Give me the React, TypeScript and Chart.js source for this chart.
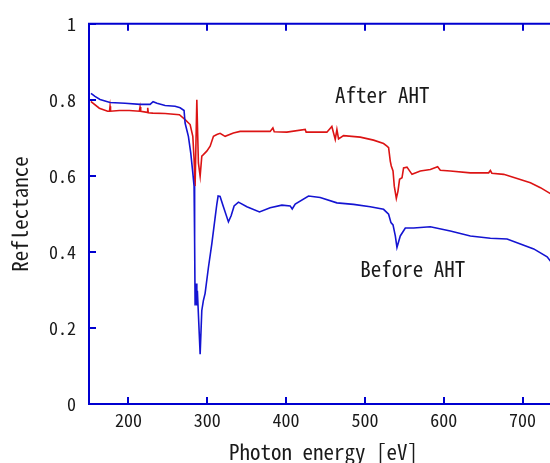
import React, { useEffect, useRef } from 'react';
import { Chart, registerables } from 'chart.js';

Chart.register(...registerables);

// Before AHT (blue)
const beforeEnergy = [
  152.5, 157.6, 164.0, 176.7, 195.7, 214.8, 227.5, 231.3, 236.3, 246.5, 259.2, 265.6, 270.6, 271.9,
  276.1, 279.1, 281.7, 283.3, 284.0, 284.6, 285.9, 286.8, 287.5, 291.0, 293.1, 295.1, 297.3, 301.5,
  305.8, 310.0, 312.2, 313.8, 316.3, 320.2, 326.9, 330.3, 334.1, 339.6, 350.3, 366.3, 379.8, 394.7,
  405.2, 407.8, 411.6, 428.5, 443.3, 464.5, 485.6, 506.8, 523.7, 530.1, 533.1, 535.7, 538.6, 540.7,
  544.9, 551.3, 561.8, 583.0, 608.4, 633.8, 659.2, 680.4, 697.3, 714.2, 731.2, 738.0,
];
const beforeReflectance = [
  0.817, 0.809, 0.801, 0.793, 0.791, 0.788, 0.788, 0.795, 0.791, 0.785, 0.783, 0.779, 0.772, 0.739,
  0.704, 0.660, 0.608, 0.573, 0.429, 0.259, 0.317, 0.259, 0.298, 0.131, 0.246, 0.272, 0.291, 0.359,
  0.421, 0.490, 0.526, 0.547, 0.546, 0.521, 0.479, 0.495, 0.521, 0.531, 0.519, 0.505, 0.516, 0.523,
  0.521, 0.513, 0.526, 0.547, 0.543, 0.529, 0.525, 0.519, 0.512, 0.499, 0.477, 0.471, 0.442, 0.412,
  0.442, 0.463, 0.463, 0.466, 0.455, 0.442, 0.436, 0.434, 0.421, 0.408, 0.387, 0.369,
];

// After AHT (red)
const afterEnergy = [
  152.5, 153.8, 163.1, 173.7, 176.0, 176.7, 177.3, 188.5, 201.2, 213.9, 214.8, 215.6, 224.0, 224.5,
  225.2, 230.9, 246.5, 264.7, 271.9, 278.3, 281.7, 283.3, 284.6, 286.8, 288.8, 291.0, 293.1, 295.1,
  299.4, 303.7, 307.9, 312.2, 316.3, 322.7, 333.2, 341.7, 354.4, 379.8, 383.3, 385.0, 401.0, 424.3,
  425.5, 451.8, 458.1, 462.4, 464.5, 466.6, 472.9, 494.1, 511.0, 523.7, 528.0, 530.1, 532.2, 533.5,
  535.7, 537.3, 539.9, 542.0, 544.0, 547.1, 549.1, 553.4, 559.8, 570.3, 583.0, 592.3, 595.7, 608.4,
  633.8, 657.0, 659.2, 661.1, 676.1, 693.1, 710.0, 722.7, 738.0,
];
const afterReflectance = [
  0.796, 0.793, 0.778, 0.770, 0.770, 0.783, 0.770, 0.772, 0.772, 0.770, 0.781, 0.770, 0.767, 0.779,
  0.766, 0.765, 0.764, 0.761, 0.748, 0.735, 0.704, 0.644, 0.573, 0.800, 0.634, 0.599, 0.652, 0.656,
  0.665, 0.678, 0.704, 0.709, 0.712, 0.704, 0.713, 0.717, 0.717, 0.717, 0.726, 0.716, 0.715, 0.722,
  0.715, 0.715, 0.730, 0.696, 0.722, 0.697, 0.706, 0.702, 0.694, 0.685, 0.678, 0.674, 0.639, 0.626,
  0.613, 0.573, 0.541, 0.560, 0.591, 0.595, 0.621, 0.623, 0.604, 0.613, 0.617, 0.624, 0.615, 0.613,
  0.608, 0.608, 0.614, 0.607, 0.604, 0.593, 0.582, 0.569, 0.550,
];

const xTicks = [200, 300, 400, 500, 600, 700];
const yTicks = [0, 0.2, 0.4, 0.6, 0.8, 1];
const yTickLabels = ['0', '0.2', '0.4', '0.6', '0.8', '1'];
const xMin = 150;
const xMax = 745;

const curveLabels = ['After AHT', 'Before AHT'];
const curveLabelX = [462, 494];
const curveLabelY = [0.814, 0.354];

const FONT_FAMILY = '"Noto Sans Mono CJK JP", "DejaVu Sans Mono", monospace';
const AXIS_COLOR = '#0000d0';
const TEXT_COLOR = '#1a1a1a';

const framePlugin = {
  id: 'frameAndLabels',
  afterDatasetsDraw(chart: any) {
    const { ctx, chartArea, scales } = chart;
    const { left, right, top, bottom } = chartArea;
    const xs = scales.x;
    const ys = scales.y;
    ctx.save();
    ctx.strokeStyle = AXIS_COLOR;
    ctx.lineWidth = 2;
    ctx.beginPath();
    ctx.rect(left, top, right - left, bottom - top);
    ctx.stroke();
    const tl = 7;
    ctx.beginPath();
    xTicks.forEach((v) => {
      const px = Math.round(xs.getPixelForValue(v));
      ctx.moveTo(px, bottom);
      ctx.lineTo(px, bottom - tl);
      ctx.moveTo(px, top);
      ctx.lineTo(px, top + tl);
    });
    yTicks.forEach((v) => {
      const py = Math.round(ys.getPixelForValue(v));
      ctx.moveTo(left, py);
      ctx.lineTo(left + tl, py);
      ctx.moveTo(right, py);
      ctx.lineTo(right - tl, py);
    });
    ctx.stroke();

    ctx.fillStyle = TEXT_COLOR;
    ctx.font = `21px ${FONT_FAMILY}`;
    ctx.textAlign = 'left';
    ctx.textBaseline = 'middle';
    curveLabels.forEach((t, i) => {
      ctx.fillText(t, xs.getPixelForValue(curveLabelX[i]), ys.getPixelForValue(curveLabelY[i]));
    });
    ctx.restore();
  },
};

export default function App() {
  const canvasRef = useRef<HTMLCanvasElement | null>(null);

  useEffect(() => {
    if (!canvasRef.current) return;
    const chart = new Chart(canvasRef.current, {
      type: 'line',
      data: {
        datasets: [
          {
            label: 'Before AHT',
            data: beforeEnergy.map((x, i) => ({ x, y: beforeReflectance[i] })),
            borderColor: '#1414d2',
            borderWidth: 1.6,
            pointRadius: 0,
            tension: 0,
          },
          {
            label: 'After AHT',
            data: afterEnergy.map((x, i) => ({ x, y: afterReflectance[i] })),
            borderColor: '#dc1414',
            borderWidth: 1.6,
            pointRadius: 0,
            tension: 0,
          },
        ],
      },
      options: {
        animation: false,
        responsive: true,
        maintainAspectRatio: false,
        layout: { padding: { top: 23, right: 12, left: 0, bottom: 0 } },
        plugins: { legend: { display: false }, tooltip: { enabled: false } },
        scales: {
          x: {
            type: 'linear',
            min: xMin,
            max: xMax,
            afterBuildTicks: (axis: any) => {
              axis.ticks = xTicks.map((v) => ({ value: v }));
            },
            grid: { display: false, drawTicks: false },
            border: { display: false },
            ticks: {
              color: TEXT_COLOR,
              font: { family: FONT_FAMILY, size: 18 },
              padding: 5,
              maxRotation: 0,
              callback: (v: any) => String(v),
            },
            title: {
              display: true,
              text: 'Photon energy [eV]',
              color: TEXT_COLOR,
              font: { family: FONT_FAMILY, size: 21, lineHeight: 1.0 },
              padding: { top: 0, bottom: 0 },
            },
            afterFit: (s: any) => {
              s.height = 59;
            },
          },
          y: {
            type: 'linear',
            min: 0,
            max: 1,
            afterBuildTicks: (axis: any) => {
              axis.ticks = yTicks.map((v) => ({ value: v }));
            },
            grid: { display: false, drawTicks: false },
            border: { display: false },
            ticks: {
              color: TEXT_COLOR,
              font: { family: FONT_FAMILY, size: 18 },
              padding: 13,
              callback: (v: any) => {
                const i = yTicks.indexOf(Number(v));
                return i >= 0 ? yTickLabels[i] : '';
              },
            },
            title: {
              display: true,
              text: 'Reflectance',
              color: TEXT_COLOR,
              font: { family: FONT_FAMILY, size: 21, lineHeight: 1.2 },
              padding: { top: 7, bottom: 0 },
            },
            afterFit: (s: any) => {
              s.width = 89;
            },
          },
        },
      } as any,
      plugins: [framePlugin],
    });
    return () => chart.destroy();
  }, []);

  return (
    <div style={{ position: 'fixed', left: 0, top: 0, width: 550, height: 463, overflow: 'hidden', background: '#fff' }}>
      <div style={{ position: 'relative', width: 570, height: 463 }}>
        <canvas ref={canvasRef} />
      </div>
    </div>
  );
}
